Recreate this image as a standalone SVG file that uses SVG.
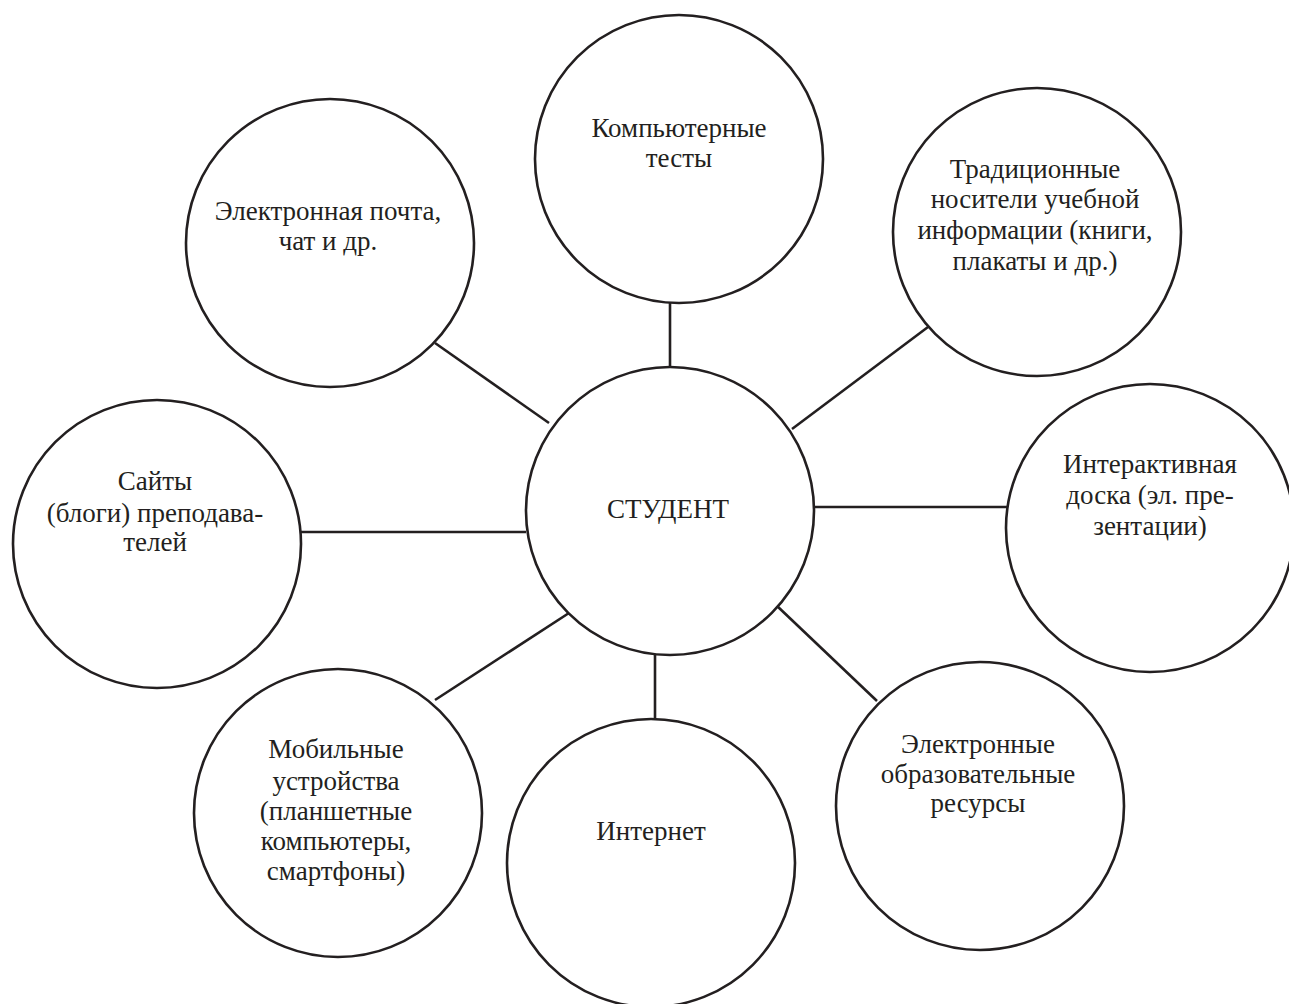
<svg xmlns="http://www.w3.org/2000/svg" width="1289" height="1004" viewBox="0 0 1289 1004">
<style>
.c{fill:#fff;stroke:#231f20;stroke-width:2.6}
.l{stroke:#231f20;stroke-width:2.6;fill:none}
text{font-family:"Liberation Serif","Times New Roman",serif;font-size:27px;fill:#231f20;text-anchor:middle}
</style>
<rect width="1289" height="1004" fill="#fff"/>
<g id="connectors">
<line class="l" x1="670" y1="303" x2="670" y2="367"/>
<line class="l" x1="435" y1="343" x2="549" y2="423"/>
<line class="l" x1="928" y1="327" x2="792" y2="429"/>
<line class="l" x1="814" y1="507" x2="1007" y2="507"/>
<line class="l" x1="301" y1="532" x2="526" y2="532"/>
<line class="l" x1="435" y1="700" x2="569" y2="613"/>
<line class="l" x1="655" y1="650" x2="655" y2="719"/>
<line class="l" x1="776" y1="605" x2="877" y2="701"/>
</g>
<g id="student">
<circle class="c" cx="670" cy="511" r="144"/>
<text x="668" y="518">СТУДЕНТ</text>
</g>
<g id="tests">
<circle class="c" cx="679" cy="159" r="144"/>
<text x="679" y="137">Компьютерные</text>
<text x="679" y="167">тесты</text>
</g>
<g id="email">
<circle class="c" cx="330" cy="243" r="144"/>
<text x="328" y="220">Электронная почта,</text>
<text x="328" y="250">чат и др.</text>
</g>
<g id="traditional">
<circle class="c" cx="1037" cy="232" r="144"/>
<text x="1035" y="178">Традиционные</text>
<text x="1035" y="208">носители учебной</text>
<text x="1035" y="239">информации (книги,</text>
<text x="1035" y="270">плакаты и др.)</text>
</g>
<g id="board">
<circle class="c" cx="1150" cy="528" r="144"/>
<text x="1150" y="473">Интерактивная</text>
<text x="1150" y="504">доска (эл. пре-</text>
<text x="1150" y="535">зентации)</text>
</g>
<g id="sites">
<circle class="c" cx="157" cy="544" r="144"/>
<text x="155" y="490">Сайты</text>
<text x="155" y="522">(блоги) преподава-</text>
<text x="155" y="551">телей</text>
</g>
<g id="mobile">
<circle class="c" cx="338" cy="813" r="144"/>
<text x="336" y="758">Мобильные</text>
<text x="336" y="790">устройства</text>
<text x="336" y="820">(планшетные</text>
<text x="336" y="850">компьютеры,</text>
<text x="336" y="880">смартфоны)</text>
</g>
<g id="internet">
<circle class="c" cx="651" cy="863" r="144"/>
<text x="651" y="840">Интернет</text>
</g>
<g id="eresources">
<circle class="c" cx="980" cy="806" r="144"/>
<text x="978" y="753">Электронные</text>
<text x="978" y="783">образовательные</text>
<text x="978" y="812">ресурсы</text>
</g>
</svg>
